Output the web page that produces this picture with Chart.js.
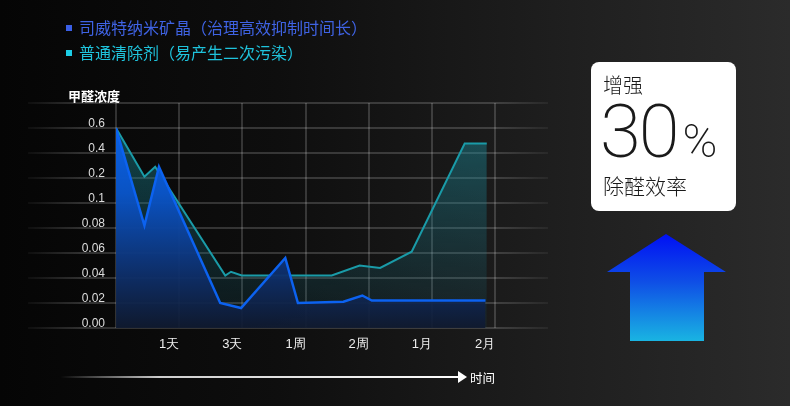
<!DOCTYPE html>
<html>
<head>
<meta charset="utf-8">
<script src="https://cdn.jsdelivr.net/npm/chart.js@4.4.1/dist/chart.umd.min.js"></script>
<style>
  html, body { margin: 0; padding: 0; }
  body {
    width: 790px; height: 406px; overflow: hidden; position: relative;
    background: linear-gradient(90deg, #050505 0%, #0e0e0e 35%, #1e1e1e 70%, #2b2b2b 100%);
    font-family: "Noto Sans CJK SC", sans-serif;
  }
  #chartBox { position: absolute; left: 0; top: 0; width: 790px; height: 406px; }
  .legend { position: absolute; left: 66px; font-size: 16px; line-height: 18px; }
  .legend i { display: inline-block; width: 6px; height: 6px; margin-right: 7px; vertical-align: 3px; }
  .yTitle { position: absolute; left: 68px; top: 86px; color: #fff; font-size: 13px; font-weight: bold; }
  .timeLabel { position: absolute; left: 470px; top: 368px; color: #fff; font-size: 12.5px; }
  .card {
    position: absolute; left: 591px; top: 62px; width: 145px; height: 149px;
    background: #fff; border-radius: 8px; color: #1a1a1a;
  }
  .card .t1 { position: absolute; left: 12px; top: 8px; font-size: 20px; font-weight: 300; }
  .card .big { position: absolute; left: 9px; top: 26px; font-family: Roboto, "Liberation Sans", sans-serif;
               font-weight: 200; font-size: 74px; line-height: 88px; letter-spacing: -2px; }
  .card .big span { font-size: 47px; letter-spacing: 0; margin-left: 5px; }
  .card .t2 { position: absolute; left: 12px; top: 108px; font-size: 21px; font-weight: 300; }
  svg.deco { position: absolute; left: 0; top: 0; }
</style>
</head>
<body>
<div id="chartBox"><canvas id="myChart"></canvas></div>

<div class="legend" style="top:18px;color:#3f63e4"><i style="background:#3a5fe6"></i>司威特纳米矿晶（治理高效抑制时间长）</div>
<div class="legend" style="top:43px;color:#1fc3dc"><i style="background:#1ccde6"></i>普通清除剂（易产生二次污染）</div>
<div class="yTitle">甲醛浓度</div>
<div class="timeLabel">时间</div>

<svg class="deco" width="790" height="406">
  <defs>
    <linearGradient id="axisFade" x1="0" x2="1" y1="0" y2="0">
      <stop offset="0" stop-color="#fff" stop-opacity="0"/>
      <stop offset="0.25" stop-color="#fff" stop-opacity="0.8"/>
      <stop offset="1" stop-color="#fff" stop-opacity="1"/>
    </linearGradient>
    <linearGradient id="arrowFill" x1="0" x2="0" y1="0" y2="1">
      <stop offset="0" stop-color="#0010f4"/>
      <stop offset="0.45" stop-color="#0f4fe6"/>
      <stop offset="1" stop-color="#19b4e2"/>
    </linearGradient>
  </defs>
  <rect x="60" y="376" width="399" height="2" fill="url(#axisFade)"/>
  <polygon points="458,371 467,377 458,383" fill="#fff"/>
  <polygon points="666,234 726,272 704,272 704,341 630,341 630,272 607,272" fill="url(#arrowFill)"/>
</svg>

<div class="card">
  <div class="t1">增强</div>
  <div class="big">30<span>%</span></div>
  <div class="t2">除醛效率</div>
</div>

<script>
// y axis is tiered: equal spacing between these concentration stops
const yTickValues = [0, 0.02, 0.04, 0.06, 0.08, 0.1, 0.2, 0.4, 0.6];
const yTickLabels = ['0.00', '0.02', '0.04', '0.06', '0.08', '0.1', '0.2', '0.4', '0.6'];
// x axis is tiered too, stops in days
const xTickDays = [0, 1, 3, 7, 14, 30, 60];
const xTickLabels = ['', '1天', '3天', '1周', '2周', '1月', '2月'];

// 司威特纳米矿晶
const crystalDays = [0, 0.45, 0.68, 2.3, 2.96, 5.72, 6.52, 11.2, 13.3, 14.8, 55.5];
const crystalConc = [0.6, 0.082, 0.29, 0.02, 0.016, 0.056, 0.02, 0.021, 0.026, 0.022, 0.022];
// 普通清除剂
const cleanerDays = [0, 0.45, 0.62, 2.46, 2.64, 2.98, 9.9, 13.0, 16.9, 24.9, 45.6, 56.1];
const cleanerConc = [0.6, 0.21, 0.29, 0.042, 0.045, 0.042, 0.042, 0.05, 0.048, 0.061, 0.476, 0.476];

function toTier(v, stops)
{
    for (let i = 0; i < stops.length - 1; i++) {
        if (v <= stops[i + 1]) return i + (v - stops[i]) / (stops[i + 1] - stops[i]);
    }
    return stops.length - 1;
}

function buildPoints(days, conc)
{
    return days.map((d, i) => ({ x: toTier(d, xTickDays), y: toTier(conc[i], yTickValues) }));
}

function vGradient(stops)
{
    return function(context) {
        const { ctx, chartArea } = context.chart;
        if (!chartArea) return null;
        const g = ctx.createLinearGradient(0, chartArea.top, 0, chartArea.bottom);
        stops.forEach(s => g.addColorStop(s[0], s[1]));
        return g;
    };
}

// long faded horizontal lines that run past the plot on both sides
const wideGrid = {
    id: 'wideGrid',
    beforeDatasetsDraw(chart) {
        const ctx = chart.ctx, y = chart.scales.y;
        const g = ctx.createLinearGradient(28, 0, 548, 0);
        g.addColorStop(0, 'rgba(255,255,255,0.04)');
        g.addColorStop(0.1, 'rgba(255,255,255,0.17)');
        g.addColorStop(0.9, 'rgba(255,255,255,0.17)');
        g.addColorStop(1, 'rgba(255,255,255,0.05)');
        ctx.save();
        ctx.strokeStyle = g;
        ctx.lineWidth = 2;
        for (let v = 0; v <= yTickValues.length; v++) {
            const py = Math.round(y.getPixelForValue(v));
            ctx.beginPath();
            ctx.moveTo(28, py);
            ctx.lineTo(548, py);
            ctx.stroke();
        }
        ctx.restore();
    }
};

Chart.defaults.font.family = '"Liberation Sans", Arial, sans-serif';

var ctx = document.getElementById('myChart').getContext('2d');
var myChart = new Chart(ctx, {
    type: 'line',
    data: {
        datasets: [
            {
                label: '司威特纳米矿晶（治理高效抑制时间长）',
                data: buildPoints(crystalDays, crystalConc),
                borderColor: '#0c62f0',
                borderWidth: 2.5,
                backgroundColor: vGradient([[0, 'rgba(10,104,245,1)'], [0.4, 'rgba(10,84,200,0.97)'], [0.75, 'rgba(14,48,110,0.95)'], [1, 'rgba(16,26,48,0.92)']]),
                fill: 'origin',
                pointRadius: 0,
                tension: 0
            },
            {
                label: '普通清除剂（易产生二次污染）',
                data: buildPoints(cleanerDays, cleanerConc),
                borderColor: '#1a9ba8',
                borderWidth: 2,
                backgroundColor: vGradient([[0, 'rgba(28,150,165,0.5)'], [1, 'rgba(28,110,130,0.1)']]),
                fill: 'origin',
                pointRadius: 0,
                tension: 0
            }
        ]
    },
    options: {
        responsive: true,
        maintainAspectRatio: false,
        animation: false,
        layout: { autoPadding: false, padding: { top: 103, right: 295, bottom: 0, left: 0 } },
        plugins: { legend: { display: false }, tooltip: { enabled: false } },
        scales: {
            x: {
                type: 'linear', min: 0, max: 6,
                afterFit: function(scale) { scale.height = 78; },
                border: { display: false },
                grid: { color: 'rgba(255,255,255,0.17)', lineWidth: 2, drawTicks: false },
                ticks: {
                    stepSize: 1, autoSkip: false, maxRotation: 0, padding: 9, labelOffset: -10,
                    color: '#eee', font: { size: 13 },
                    callback: (v) => xTickLabels[v] ?? ''
                }
            },
            y: {
                type: 'linear', min: 0, max: yTickValues.length,
                afterFit: function(scale) { scale.width = 116; },
                border: { display: false },
                grid: { display: false, drawTicks: false },
                ticks: {
                    stepSize: 1, autoSkip: false, padding: 11, labelOffset: -4,
                    color: '#ddd', font: { size: 12 },
                    callback: (v) => yTickLabels[v] ?? ''
                }
            }
        }
    },
    plugins: [wideGrid]
});
</script>
</body>
</html>
